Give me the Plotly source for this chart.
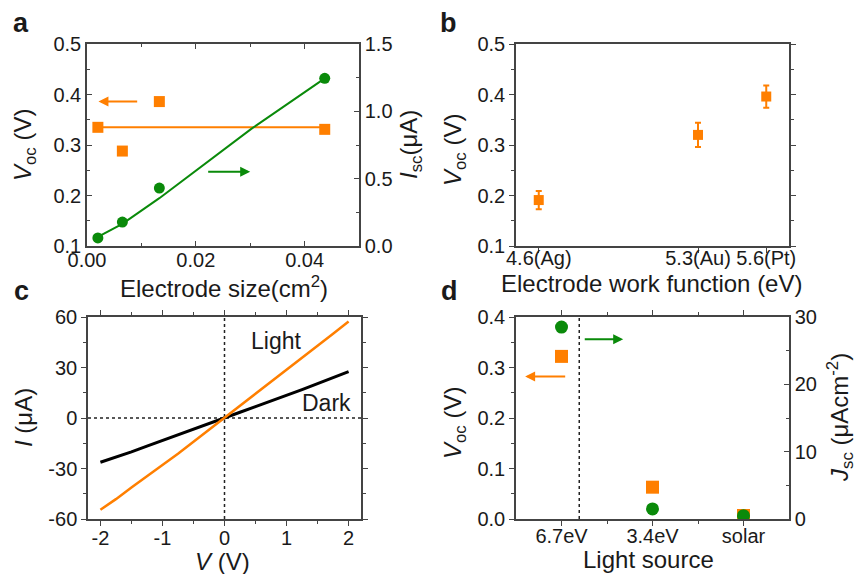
import plotly.graph_objects as go

W, H = 857, 574
FONT = "Liberation Sans, Arial, sans-serif"
TXT = "#1a1a1a"
AX = "#444444"
ORANGE = "#FF7F00"
GREEN = "#0A8A0A"

# ---- panel a data ----
size_cm2 = [0.002, 0.0065, 0.0133, 0.0437]
voc_a = [0.335, 0.288, 0.386, 0.331]
isc_a = [0.06, 0.178, 0.43, 1.245]
voc_fit_x = [0.002, 0.0437]
voc_fit_y = [0.335, 0.335]
isc_fit_x = [0.002, 0.0065, 0.0133, 0.0302, 0.0437]
isc_fit_y = [0.067, 0.165, 0.355, 0.87, 1.245]

# ---- panel b data ----
work_fn = [4.6, 5.3, 5.6]
work_labels = ["4.6(Ag)", "5.3(Au)", "5.6(Pt)"]
voc_b = [0.191, 0.320, 0.396]
voc_b_err = [0.018, 0.024, 0.022]

# ---- panel c data ----
v_c = [-2.0, -1.75, -1.5, -1.25, -1.0, -0.75, -0.5, -0.25, 0.0,
       0.25, 0.5, 0.75, 1.0, 1.25, 1.5, 1.75, 2.0]
i_light = [-54.5, -48.2, -41.3, -34.8, -27.9, -21.2, -14.1, -7.2, 0.0,
           7.3, 14.2, 21.3, 28.5, 35.6, 42.9, 50.1, 57.3]
i_dark = [-26.3, -23.3, -20.1, -16.7, -13.4, -10.2, -6.9, -3.6, 0.0,
          3.4, 6.8, 10.1, 13.3, 16.9, 20.4, 24.0, 27.5]
c_xticks = [-2, -1, 0, 1, 2]
c_xlabels = ["-2", "-1", "0", "1", "2"]
c_yticks = [-60, -30, 0, 30, 60]
c_ylabels = ["-60", "-30", "0", "30", "60"]

# ---- panel d data ----
sources = ["6.7eV", "3.4eV", "solar"]
voc_d = [0.322, 0.063, 0.007]
jsc_d = [28.5, 1.5, 0.5]

src_pos = list(range(len(sources)))

fig = go.Figure()

# panel a
fig.add_trace(go.Scatter(x=voc_fit_x, y=voc_fit_y, mode="lines",
                         line=dict(color=ORANGE, width=2), xaxis="x", yaxis="y"))
fig.add_trace(go.Scatter(x=size_cm2, y=voc_a, mode="markers",
                         marker=dict(symbol="square", size=11, color=ORANGE),
                         xaxis="x", yaxis="y"))
fig.add_trace(go.Scatter(x=isc_fit_x, y=isc_fit_y, mode="lines",
                         line=dict(color=GREEN, width=2), xaxis="x", yaxis="y2"))
fig.add_trace(go.Scatter(x=size_cm2, y=isc_a, mode="markers",
                         marker=dict(symbol="circle", size=11, color=GREEN),
                         xaxis="x", yaxis="y2"))

# panel b
fig.add_trace(go.Scatter(x=work_fn, y=voc_b, mode="markers",
                         marker=dict(symbol="square", size=10, color=ORANGE),
                         error_y=dict(type="data", array=voc_b_err, visible=True,
                                      color=ORANGE, thickness=2, width=3),
                         xaxis="x2", yaxis="y3"))

# panel c
fig.add_trace(go.Scatter(x=[0, 0], y=[-60, 60], mode="lines",
                         line=dict(color="#222", width=1.5, dash="dot"),
                         xaxis="x3", yaxis="y5"))
fig.add_trace(go.Scatter(x=[-2.2, 2.2], y=[0, 0], mode="lines",
                         line=dict(color="#222", width=1.5, dash="dot"),
                         xaxis="x3", yaxis="y5"))
fig.add_trace(go.Scatter(x=v_c, y=i_dark, mode="lines",
                         line=dict(color="black", width=3), xaxis="x3", yaxis="y5"))
fig.add_trace(go.Scatter(x=v_c, y=i_light, mode="lines",
                         line=dict(color=ORANGE, width=2.5), xaxis="x3", yaxis="y5"))

# panel d
fig.add_trace(go.Scatter(x=[0.195, 0.195], y=[0, 0.4], mode="lines",
                         line=dict(color="#222", width=1.5, dash="dot"),
                         xaxis="x5", yaxis="y7"))
fig.add_trace(go.Scatter(x=src_pos, y=voc_d, mode="markers",
                         marker=dict(symbol="square", size=13, color=ORANGE),
                         xaxis="x5", yaxis="y7"))
fig.add_trace(go.Scatter(x=src_pos, y=jsc_d, mode="markers",
                         marker=dict(symbol="circle", size=13, color=GREEN),
                         xaxis="x5", yaxis="y8"))


def px_x(v):
    return v / W


def px_y(v):
    return 1 - v / H


dom_xa = [px_x(87), px_x(359)]
dom_xc = [px_x(88), px_x(361)]
dom_xr = [px_x(516), px_x(789)]
dom_yt = [px_y(246), px_y(44)]
dom_yb = [px_y(519), px_y(317)]

tickfont = dict(family=FONT, size=20, color=TXT)


def ax(**kw):
    base = dict(showline=True, linecolor=AX, linewidth=1.5, showgrid=False,
                zeroline=False, tickcolor=AX, ticklen=5, tickwidth=1.2,
                tickfont=tickfont, automargin=False, tickangle=0)
    base.update(kw)
    return base


def mn(dt, ticks, tick0=None):
    d = dict(dtick=dt, ticks=ticks, ticklen=3, tickcolor=AX, tickwidth=1.2)
    if tick0 is not None:
        d["tick0"] = tick0
    return d


fig.update_layout(
    width=W, height=H, margin=dict(l=0, r=0, t=0, b=0, autoexpand=False),
    paper_bgcolor="white", plot_bgcolor="white", showlegend=False,
    # panel a
    xaxis=ax(domain=dom_xa, anchor="y", range=[0, 0.05], dtick=0.02, tickformat=".2f",
             ticks="inside", mirror="ticks", minor=mn(0.01, "inside"),
             ticklabelstandoff=-5),
    yaxis=ax(domain=dom_yt, anchor="x", range=[0.1, 0.5], dtick=0.1, tickformat=".1f",
             ticks="inside", minor=mn(0.05, "inside")),
    yaxis2=ax(overlaying="y", side="right", anchor="x", range=[0, 1.5], dtick=0.5,
              tickformat=".1f", ticks="inside", minor=mn(0.25, "inside")),
    # panel b
    xaxis2=ax(domain=dom_xr, anchor="y3", range=[4.5, 5.7], tickmode="array",
              tickvals=work_fn, ticktext=work_labels, ticks="outside", mirror=True,
              ticklabelstandoff=-12),
    yaxis3=ax(domain=dom_yt, anchor="x2", range=[0.1, 0.5], dtick=0.1, tickformat=".1f",
              ticks="outside", mirror="ticks", minor=mn(0.05, "outside")),
    # panel c
    xaxis3=ax(domain=dom_xc, anchor="y5", range=[-2.2, 2.2], tickmode="array",
              tickvals=c_xticks, ticktext=c_xlabels, mirror="ticks",
              ticks="outside", minor=mn(0.5, "outside", 0), ticklabelstandoff=-5),
    yaxis5=ax(domain=dom_yb, anchor="x3", range=[-60, 60], tickmode="array",
              tickvals=c_yticks, ticktext=c_ylabels, mirror="ticks",
              ticks="outside", minor=mn(15, "outside", 0)),
    # panel d
    xaxis5=ax(domain=dom_xr, anchor="y7", range=[-0.5, 2.5], tickmode="array",
              tickvals=src_pos, ticktext=sources, ticks="outside", ticklabelstandoff=-7,
              mirror="ticks",
              minor=dict(tickmode="array", tickvals=[0.5, 1.5], ticks="outside",
                         ticklen=3, tickcolor=AX, tickwidth=1.2)),
    yaxis7=ax(domain=dom_yb, anchor="x5", range=[0, 0.4], dtick=0.1, tickformat=".1f",
              ticks="outside", minor=mn(0.05, "outside")),
    yaxis8=ax(overlaying="y7", side="right", anchor="x5", range=[0, 30], dtick=10,
              ticks="inside", minor=mn(5, "inside")),
)

ann = []


def ptxt(text, x, y, size=24, angle=0, bold=False):
    t = "<b>%s</b>" % text if bold else text
    ann.append(dict(text=t, x=px_x(x), y=px_y(y), xref="paper", yref="paper",
                    xanchor="center", yanchor="middle", showarrow=False,
                    textangle=angle, font=dict(family=FONT, size=size, color=TXT)))


# panel letters
ptxt("a", 21, 23, size=27, bold=True)
ptxt("b", 448, 23, size=27, bold=True)
ptxt("c", 21, 291, size=27, bold=True)
ptxt("d", 449, 291, size=27, bold=True)

# axis titles
ptxt("Electrode size(cm<sup>2</sup>)", 224, 287)
ptxt("<i>V</i><sub>oc</sub> (V)", 24, 145, angle=-90)
ptxt("<i>I</i><sub>sc</sub>(μA)", 410, 145, angle=-90)
ptxt("Electrode work function (eV)", 651, 284)
ptxt("<i>V</i><sub>oc</sub> (V)", 454, 150, angle=-90)
ptxt("<i>V</i> (V)", 222, 561)
ptxt("<i>I</i> (μA)", 23, 418, angle=-90)
ptxt("Light source", 648, 559)
ptxt("<i>V</i><sub>oc</sub> (V)", 454, 423, angle=-90)
ptxt("<i>J</i><sub>sc</sub> (μAcm<sup>-2</sup>)", 840, 418, angle=-90)

# in-plot labels
ann.append(dict(text="Light", x=0.83, y=45.5, xref="x3", yref="y5", showarrow=False,
                font=dict(family=FONT, size=23, color=TXT)))
ann.append(dict(text="Dark", x=1.65, y=8.9, xref="x3", yref="y5", showarrow=False,
                font=dict(family=FONT, size=23, color=TXT)))


def arrow(x, y, ax_, ay_, xr, yr, color):
    ann.append(dict(x=x, y=y, ax=ax_, ay=ay_, xref=xr, yref=yr, axref=xr, ayref=yr,
                    showarrow=True, arrowhead=2, arrowsize=1, arrowwidth=2,
                    arrowcolor=color, text=""))


arrow(0.0021, 0.386, 0.0095, 0.386, "x", "y", ORANGE)
arrow(0.030, 0.247, 0.022, 0.247, "x", "y", GREEN)
arrow(-0.40, 0.282, 0.057, 0.282, "x5", "y7", ORANGE)
arrow(0.678, 0.356, 0.239, 0.356, "x5", "y7", GREEN)

fig.update_layout(annotations=ann)

fig.write_html("out.html")
